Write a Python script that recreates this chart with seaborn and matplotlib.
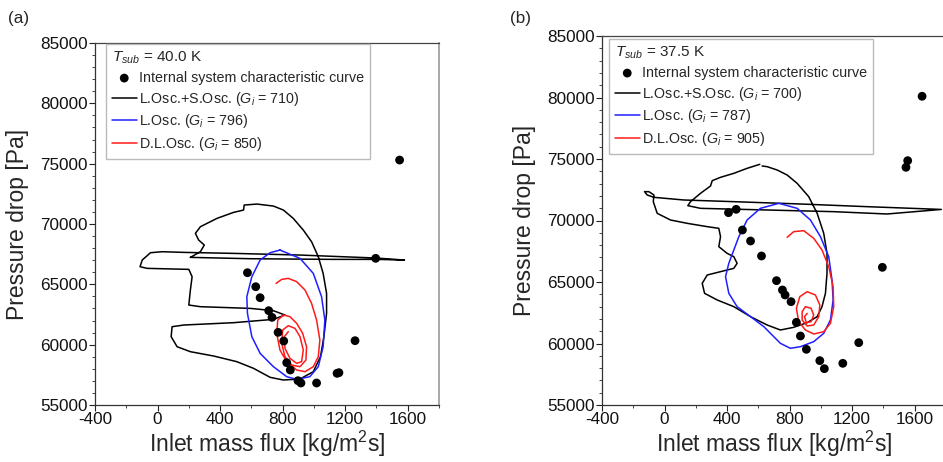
import numpy as np
import pandas as pd
import matplotlib
matplotlib.use("Agg")
import matplotlib.pyplot as plt
import seaborn as sns
from matplotlib.ticker import MultipleLocator, FixedLocator

# ---------------- Panel (a) data ----------------
a_pts_x = [1548, 1395, 575, 628, 656, 711, 732, 771, 807, 1263, 826, 849, 1148, 1160, 898, 917, 1017]
a_pts_y = [75300, 67154, 65963, 64803, 63892, 62815, 62264, 61020, 60302, 60330, 58507, 57900, 57625, 57680, 57015, 56823, 56823]

a_black_x = [210, 592, 1123, 1399, 1579, 1399, 911, 486, 168, 30, -45, -98, -112, -66, 200, 221, 210, 200,
             274, 592, 741, 815, 741, 486, 168, 93, 87, 125, 210, 359, 507, 614, 720, 805, 911, 996, 1042,
             1064, 1081, 1081, 1059, 1028, 985, 932, 868, 805, 741, 635, 554, 550, 486, 380, 274, 242, 263,
             299, 274, 210]
a_black_y = [67234, 67123, 67068, 67068, 67013, 67179, 67427, 67565, 67648, 67703, 67621, 67013, 66461, 66323,
             66240, 65632, 64527, 63285, 63147, 63008, 62815, 62456, 62097, 61821, 61628, 61490, 60661, 59832,
             59418, 59059, 58590, 58037, 57292, 57071, 57154, 57761, 59004, 60661, 62594, 64251, 65908, 67289,
             68532, 69498, 70465, 71155, 71487, 71653, 71570, 71155, 70962, 70465, 69775, 69222, 68670, 68256,
             67703, 67234]

a_blue_x = [783, 911, 996, 1049, 1070, 1059, 1028, 974, 890, 826, 741, 656, 603, 575, 571, 603, 656, 720, 783]
a_blue_y = [67841, 67151, 65908, 63975, 62042, 59832, 58175, 57347, 57126, 57347, 58175, 59280, 60661, 62594,
            63975, 65632, 67013, 67621, 67841]

a_red_x = [758, 794, 836, 890, 943, 985, 1017, 1038, 1028, 996, 943, 890, 826, 783, 762, 769, 805, 847, 890,
           928, 953, 949, 911, 858, 815, 794, 800, 836, 879, 911, 932, 921, 890, 847, 815, 811, 836]
a_red_y = [65080, 65411, 65494, 65218, 64527, 63423, 62042, 60385, 59004, 58175, 57761, 57899, 58590, 59556,
           60937, 62042, 62456, 62318, 61766, 60937, 59832, 58728, 58175, 58313, 59004, 60109, 61213, 61572,
           61351, 60661, 59556, 58590, 58452, 58866, 59694, 60661, 61075]

# ---------------- Panel (b) data ----------------
b_pts_x = [1647, 1555, 1544, 458, 409, 498, 550, 620, 1393, 716, 754, 771, 809, 843, 869, 907, 1242, 993, 1140, 1022]
b_pts_y = [80100, 74865, 74323, 70908, 70637, 69228, 68334, 67114, 66193, 65109, 64350, 63943, 63401, 61721,
           60610, 59526, 60068, 58605, 58388, 57954]

b_black_x = [609, 528, 443, 358, 305, 294, 230, 166, 149, 230, 656, 1082, 1423, 1770, 1295, 869, 443, 123, -68,
             -111, -128, -100, -68, -72, -47, 38, 145, 273, 347, 358, 347, 400, 443, 464, 443, 358, 273, 241, 256,
             337, 443, 550, 656, 741, 826, 912, 976, 1007, 1029, 1039, 1039, 1018, 976, 922, 848, 784, 720, 656, 624]
b_black_y = [74567, 74241, 73835, 73510, 73239, 72805, 72209, 71531, 71206, 70989, 70854, 70718, 70529, 70900,
             71125, 71342, 71531, 71667, 71884, 72073, 72345, 72345, 72073, 71531, 70583, 70041, 69770, 69499,
             69363, 68686, 67873, 67331, 67060, 66518, 66111, 65840, 65569, 64892, 64079, 63537, 62995, 62182,
             61504, 61098, 61315, 61694, 62182, 62995, 64079, 65705, 67331, 68957, 70583, 71938, 73022, 73699,
             74106, 74377, 74431]

b_blue_x = [731, 848, 933, 997, 1050, 1071, 1078, 1061, 1018, 954, 869, 805, 741, 688, 635, 550, 464, 411, 390,
            411, 443, 475, 528, 613, 731]
b_blue_y = [71396, 70989, 70041, 68686, 67060, 65163, 63537, 61911, 60827, 60149, 59743, 59608, 60014, 60692,
            61369, 62182, 62995, 64079, 65434, 66518, 67602, 68686, 70041, 70989, 71396]

b_red_x = [784, 826, 890, 954, 1007, 1050, 1078, 1082, 1061, 1018, 954, 901, 858, 843, 865, 912, 965, 993, 986,
           954, 912, 880, 880, 901, 937, 954, 937, 907, 895, 912]
b_red_y = [68632, 69092, 69174, 68550, 67602, 66247, 64621, 62995, 61640, 60962, 60773, 61098, 61775, 62859,
           63808, 64214, 63944, 63130, 62182, 61504, 61423, 61911, 62588, 62995, 62859, 62317, 61775, 61694,
           62182, 62453]

x_ticks = [-400, 0, 400, 800, 1200, 1600]
y_ticks = [55000, 60000, 65000, 70000, 75000, 80000, 85000]

panels = [
    dict(tag="(a)", tsub="40.0", g=("710", "796", "850"),
         pts=(a_pts_x, a_pts_y), black=(a_black_x, a_black_y), blue=(a_blue_x, a_blue_y), red=(a_red_x, a_red_y)),
    dict(tag="(b)", tsub="37.5", g=("700", "787", "905"),
         pts=(b_pts_x, b_pts_y), black=(b_black_x, b_black_y), blue=(b_blue_x, b_blue_y), red=(b_red_x, b_red_y)),
]

sns.set_style("ticks")
plt.rcParams["font.family"] = ["Liberation Sans", "DejaVu Sans"]
plt.rcParams["mathtext.fontset"] = "custom"
plt.rcParams["mathtext.it"] = "Liberation Sans:italic"
plt.rcParams["mathtext.rm"] = "Liberation Sans"

fig = plt.figure(figsize=(9.43, 4.62), dpi=100)
W, H = 943, 462
positions = [(95, 43, 439, 405), (602, 36, 946, 405)]
tag_pos = [(8, 18), (510, 18)]
leg_boxes = [(106, 44), (609, 39)]

for i, p in enumerate(panels):
    l, t, r, b = positions[i]
    ax = fig.add_axes([l / W, 1 - b / H, (r - l) / W, (b - t) / H])

    def curve(xs, ys, color, label):
        df = pd.DataFrame({"x": xs, "y": ys, "o": range(len(xs))})
        sns.lineplot(data=df, x="x", y="y", sort=False, estimator=None, color=color, lw=1.1, ax=ax, label=label)

    curve(*p["black"], "black", "L.Osc.+S.Osc. ($G_i$ = %s)" % p["g"][0])
    curve(*p["blue"], "#1f1fff", "L.Osc. ($G_i$ = %s)" % p["g"][1])
    curve(*p["red"], "#ff1a1a", "D.L.Osc. ($G_i$ = %s)" % p["g"][2])
    dfp = pd.DataFrame({"x": p["pts"][0], "y": p["pts"][1]})
    sns.scatterplot(data=dfp, x="x", y="y", color="black", s=40, edgecolor="none", ax=ax,
                    label="Internal system characteristic curve", zorder=5)

    ax.set_xlim(-400, 1800)
    ax.set_ylim(55000, 85000)
    ax.xaxis.set_major_locator(FixedLocator(x_ticks))
    ax.yaxis.set_major_locator(FixedLocator(y_ticks))
    ax.set_xticklabels([str(v) for v in x_ticks])
    ax.set_yticklabels([str(v) for v in y_ticks])
    ax.xaxis.set_minor_locator(MultipleLocator(200))
    ax.yaxis.set_minor_locator(MultipleLocator(1000))
    ax.tick_params(which="major", direction="out", length=4, width=0.8, labelsize=12.3, pad=1, colors="#222222")
    ax.tick_params(which="minor", direction="out", length=2.5, width=0.7, colors="#444444")
    ax.tick_params(axis="both", labelcolor="#111111")
    for s in ["left", "bottom"]:
        ax.spines[s].set_color("#333333")
        ax.spines[s].set_linewidth(0.9)
    ax.spines["top"].set_color("#444444")
    ax.spines["right"].set_color("#999999")
    ax.spines["top"].set_linewidth(0.9)
    ax.spines["right"].set_linewidth(1.2)

    ax.set_xlabel("Inlet mass flux [kg/m$^\\mathregular{2}$s]", fontsize=16.5, labelpad=1)
    ax.set_ylabel("Pressure drop [Pa]", fontsize=16.5, labelpad=8)

    handles, labels = ax.get_legend_handles_labels()
    order = [3, 0, 1, 2]
    lx, ly = leg_boxes[i]
    leg = ax.legend([handles[k] for k in order], [labels[k] for k in order],
                    title="$T_{sub}$ = %s K" % p["tsub"], title_fontsize=11,
                    loc="upper left", bbox_to_anchor=((lx - l) / (r - l), 1 - (ly - t) / (b - t)),
                    fontsize=10.3, frameon=True, fancybox=False, framealpha=1, edgecolor="#bbbbbb",
                    alignment="left", handlelength=1.75, handletextpad=0.15, labelspacing=0.33,
                    borderpad=0.4, borderaxespad=0)
    leg.get_frame().set_linewidth(1.0)

    fig.text(tag_pos[i][0] / W, 1 - tag_pos[i][1] / H, p["tag"], fontsize=12.3, va="center", ha="left")

fig.savefig("out.png", dpi=100)
